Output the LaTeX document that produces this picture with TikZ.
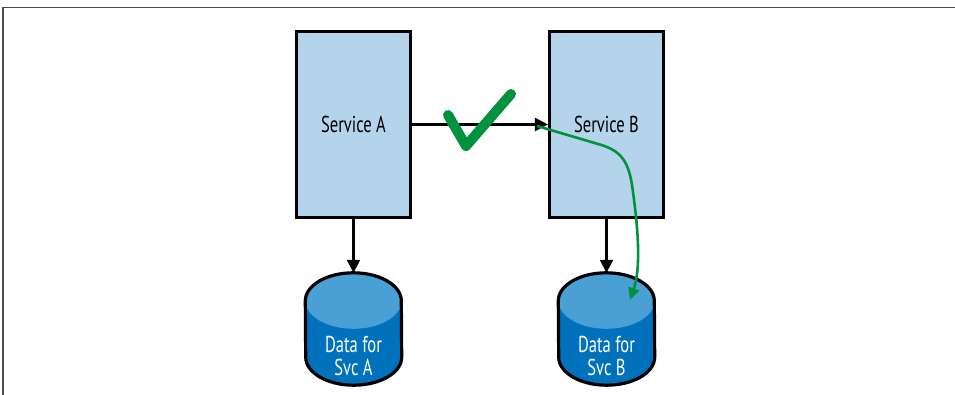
\documentclass[tikz,border=0pt]{standalone}
\usepackage{fontspec}
\setmainfont{PT Sans}[FakeStretch=0.72]
\usetikzlibrary{arrows.meta,shadows}
\definecolor{svcblue}{HTML}{B3D4EA}
\definecolor{dbtop}{HTML}{4A9FD5}
\definecolor{dbbody}{HTML}{0071BB}
\definecolor{okgreen}{HTML}{00923F}
\tikzset{
  svc/.style={draw, line width=3.2pt, fill=svcblue, inner sep=0pt,
    minimum width=114pt, minimum height=186pt,
    drop shadow={shadow xshift=1.5pt, shadow yshift=-1.5pt, opacity=.25},
    font=\fontsize{23}{27}\selectfont},
  db/.style={inner sep=0pt, minimum width=96pt, minimum height=112pt},
  dbtext/.style={text=white, align=center, font=\fontsize{23}{23}\selectfont},
  flow/.style={line width=2.4pt, -{Triangle[length=13pt,width=13pt]}},
  okflow/.style={okgreen, line width=2.6pt, -{Triangle[length=12pt,width=11pt]}}
}
% cylinder drawn round a named node
\newcommand\dbcyl[1]{%
  \fill[dbbody] ([yshift=-28pt]#1.north west) -- ([yshift=28pt]#1.south west)
    arc[start angle=180, end angle=360, x radius=48pt, y radius=28pt]
    -- ([yshift=-28pt]#1.north east) -- cycle;
  \fill[dbtop] ([yshift=-28pt]#1.north) ellipse[x radius=48pt, y radius=28pt];
  \draw[line width=3.2pt] ([yshift=-28pt]#1.north west)
    arc[start angle=180, end angle=0, x radius=48pt, y radius=28pt]
    -- ([yshift=28pt]#1.south east)
    arc[start angle=0, end angle=-180, x radius=48pt, y radius=28pt] -- cycle;
}
\begin{document}
\begin{tikzpicture}[x=1pt, y=1pt]
  \useasboundingbox (0,0) rectangle (955,395);
  \draw[gray!60!black, line width=1.2pt] (3,0) -- (3,387.5) -- (955,387.5);

  \node[svc] (svcA) at (353.5,270.5) {Service A};
  \node[svc] (svcB) at (606.5,270.5) {Service B};

  \node[db] (dbA) at (353.5,66) {};
  \node[db] (dbB) at (606.5,66) {};
  \dbcyl{dbA}
  \dbcyl{dbB}
  \node[dbtext] (dbAtxt) at ([yshift=-27pt]dbA.center) {Data for\\Svc A};
  \node[dbtext] (dbBtxt) at ([yshift=-27pt]dbB.center) {Data for\\Svc B};

  \draw[flow] (svcA) -- (svcB);
  \draw[flow] (svcA) -- (dbA);
  \draw[flow] (svcB) -- (dbB);

  % tick
  \draw[okgreen, line width=10pt, line cap=round, line join=round]
    (448,280) -- (466,249) -- (511,301);

  \coordinate (okstart) at (537,269);
  \coordinate (dbBin) at (630,95);
  \draw[okflow] (okstart) -- (598,251)
    .. controls (620,245) and (628,235) .. (632,210)
    .. controls (637,175) and (642,130) .. (dbBin);
\end{tikzpicture}
\end{document}
